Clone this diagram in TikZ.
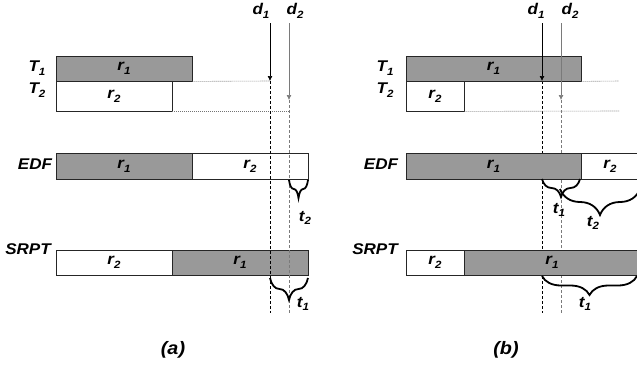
\documentclass[tikz,border=0pt]{standalone}
\usepackage{fontspec}
\setmainfont{Liberation Sans}[FakeStretch=1.1]
\usepackage{xcolor}
\usepackage{tikz}
\usetikzlibrary{positioning,arrows.meta,decorations.pathreplacing}

\definecolor{jobgray}{HTML}{999999}
\definecolor{dlgray}{HTML}{7A7A7A}
\newcommand{\sym}[2]{#1\raisebox{-0.45ex}{\fontsize{10.5}{12}\selectfont #2}}

\begin{document}
\begin{tikzpicture}[x=1pt,y=-1pt,
  font=\fontsize{15.5}{18}\selectfont\bfseries\itshape,
  job/.style={draw=black!85,line width=0.8pt,inner sep=0pt,rectangle},
  busy/.style={job,fill=jobgray},
  idle/.style={job,fill=white},
  dl/.style={line width=0.7pt,-{Latex[length=5pt,width=5pt]}},
  dlline/.style={line width=0.6pt,dash pattern=on 3pt off 2pt},
  trail/.style={draw=black!55,line width=0.6pt,dash pattern=on 1pt off 1pt},
  gap/.style={decorate,decoration={brace,mirror,amplitude=#1},line width=1.8pt},
  subcap/.style={font=\fontsize{18}{21}\selectfont\bfseries\itshape}]
\clip (0,0) rectangle (637,375);
\fill[white] (0,0) rectangle (637,375);

% (a)
\node[busy,minimum width=136,minimum height=25] (aT1) at (124,68.5) {\sym r1};
\node[idle,minimum width=116,minimum height=30] (aT2) at (114,96) {\sym r2};
\node (laT1) at (37,68) {\sym T1};
\node (laT2) at (37,90) {\sym T2};

\node[busy,minimum width=136,minimum height=26] (aE1) at (124,166) {\sym r1};
\node[idle,minimum width=116,minimum height=26] (aE2) at (250,166) {\sym r2};
\node (laE) at (35,164) {EDF};

\node[idle,minimum width=116,minimum height=25] (aS2) at (114,262.5) {\sym r2};
\node[busy,minimum width=136,minimum height=25] (aS1) at (240,262.5) {\sym r1};
\node (laS) at (28,249) {SRPT};

\node (ad1) at (261,11) {\sym d1};
\node (ad2) at (295,11) {\sym d2};
\coordinate (ad1top) at (270,23);
\coordinate (ad1tip) at (270,81);
\coordinate (ad1end) at (270,313);
\coordinate (ad2top) at (289,23);
\coordinate (ad2tip) at (289,100);
\coordinate (ad2end) at (289,313);

\draw[trail] (aT1.south east) -- (ad1tip);
\draw[trail] (aT2.south east) -- (ad2tip |- aT2.south);
\draw[dl] (ad1top) -- (ad1tip);
\draw[dl,dlgray] (ad2top) -- (ad2tip);
\draw[dlline] (ad1tip) -- (ad1end);
\draw[dlline,dlgray] (ad2tip) -- (ad2end);

\draw[gap=18] (289,180) -- (308,180);
\node (at2) at (305,218) {\sym t2};
\draw[gap=22] (270,278) -- (308,278);
\node (at1) at (303,304) {\sym t1};

\node[subcap] (capa) at (173,350) {(a)};

% (b)
\node (bd1) at (536,11) {\sym d1};
\node (bd2) at (570,11) {\sym d2};
\coordinate (bd1top) at (542,23);
\coordinate (bd1tip) at (542,81);
\coordinate (bd1end) at (542,313);
\coordinate (bd2top) at (561,23);
\coordinate (bd2tip) at (561,100);
\coordinate (bd2end) at (561,313);

\draw[dlline] (bd1tip) -- (bd1end);
\draw[dlline,dlgray] (bd2tip) -- (bd2end);

\node[busy,minimum width=175,minimum height=25] (bT1) at (493.5,68.5) {\sym r1};
\node[idle,minimum width=58,minimum height=30] (bT2) at (435,96) {\sym r2};
\node (lbT1) at (385,68) {\sym T1};
\node (lbT2) at (385,90) {\sym T2};

\node[busy,minimum width=175,minimum height=26] (bE1) at (493.5,166) {\sym r1};
\node[idle,minimum width=58,minimum height=26] (bE2) at (610,166) {\sym r2};
\node (lbE) at (381,164) {EDF};

\node[idle,minimum width=58,minimum height=25] (bS2) at (435,262.5) {\sym r2};
\node[busy,minimum width=176,minimum height=25] (bS1) at (552,262.5) {\sym r1};
\node (lbS) at (375,249) {SRPT};

\draw[trail] (bT1.south east) -- (619,81);
\draw[trail] (bT2.south east) -- (619,111);
\draw[dl] (bd1top) -- (bd1tip);
\draw[dl,dlgray] (bd2top) -- (bd2tip);

\draw[gap=18] (542,179) -- (580,179);
\node (bt1e) at (559,210) {\sym t1};
\draw[gap=26] (560,189) -- (640,189);
\node (bt2) at (593,223) {\sym t2};
\draw[gap=19] (542,276) -- (637,276);
\node (bt1s) at (585,304) {\sym t1};

\node[subcap] (capb) at (506,350) {(b)};
\end{tikzpicture}
\end{document}
